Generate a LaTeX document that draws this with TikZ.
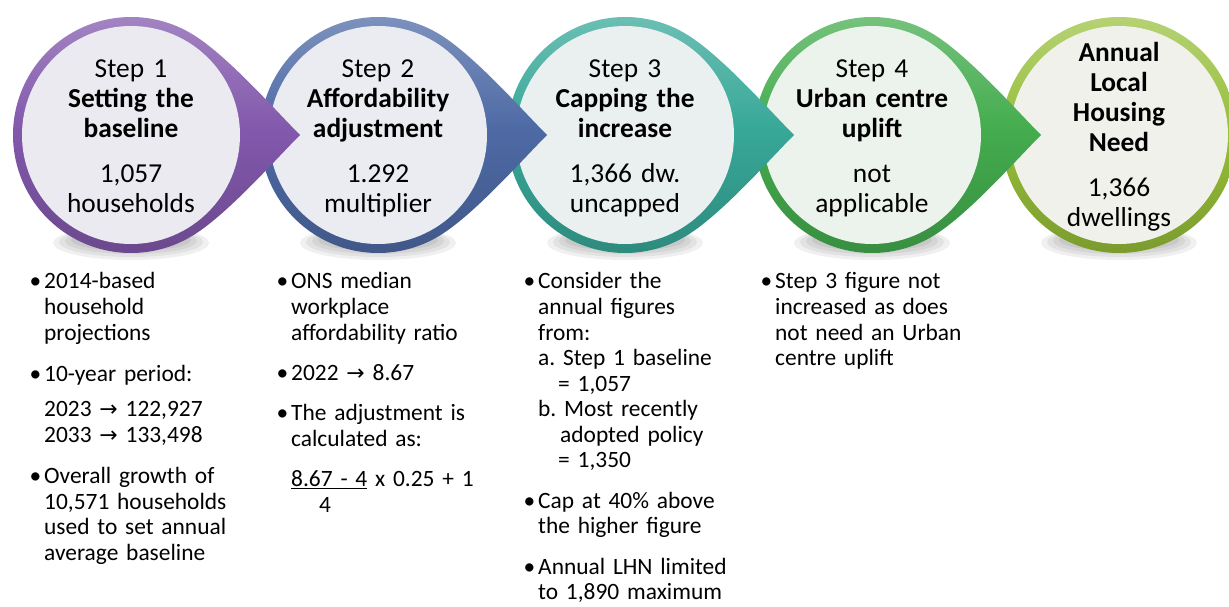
\documentclass[tikz,border=0pt]{standalone}
\usepackage{fontspec}
\setmainfont{Carlito}
\newfontfamily\arrowfont{DejaVu Sans}
\usetikzlibrary{calc}
\definecolor{ringPurple}{RGB}{130,88,172}
\definecolor{ringBlue}{RGB}{78,106,165}
\definecolor{ringTeal}{RGB}{55,168,152}
\definecolor{ringGreen}{RGB}{68,172,78}
\definecolor{ringOlive}{RGB}{150,190,56}
\definecolor{innerPurple}{RGB}{236,234,241}
\definecolor{innerBlue}{RGB}{234,236,242}
\definecolor{innerTeal}{RGB}{234,240,240}
\definecolor{innerGreen}{RGB}{236,242,236}
\definecolor{innerOlive}{RGB}{240,241,234}
\newcommand{\circfont}{\fontsize{27.5}{30}\selectfont}
\newcommand{\notefont}{\fontsize{23.5}{25.6}\selectfont}
\newcommand{\toarrow}{{\arrowfont\fontsize{22}{24}\selectfont →}}
\newcommand{\bul}{\leavevmode\llap{\textbullet\hspace{3bp}}}
% teardrop: #1 centre x, #2 ring colour, #3 inner colour
\newcommand{\stepdrop}[3]{%
  \shade[top color=#2!70!white, bottom color=#2!82!black, middle color=#2]
    ({#1+169},135) .. controls +(-25,-25) and +(35,20) .. ($(#1,135)+(-60:118)$)
    arc[start angle=-60, end angle=-300, radius=118]
    .. controls +(35,-20) and +(-25,25) .. ({#1+169},135) -- cycle;
  \fill[#3] (#1,135) circle[radius=109];
}

\begin{document}
\frenchspacing
\begin{tikzpicture}[x=1bp, y=-1bp,
    circtext/.style={text width=230bp, align=center, anchor=base, inner sep=0pt, font=\circfont},
    note/.style={text width=240bp, align=left, anchor=base west, inner sep=0pt, font=\notefont}
  ]
  \useasboundingbox (0,0) rectangle (1229,607);
  \clip (0,0) rectangle (1229,607);

  % soft shadows under the circles
  \foreach \cx in {131,378,625,872,1119}
    \foreach \k in {0,...,3}
      \fill[black, opacity=0.06] (\cx,{243-\k}) ellipse [x radius={78-6*\k}, y radius={17-2*\k}];

  % last circle first, so each pointer lies over the next circle
  \shade[top color=ringOlive!70!white, bottom color=ringOlive!82!black, middle color=ringOlive]
    (1119,135) circle[radius=118];
  \fill[innerOlive] (1119,135) circle[radius=109];
  \stepdrop{872}{ringGreen}{innerGreen}
  \stepdrop{625}{ringTeal}{innerTeal}
  \stepdrop{378}{ringBlue}{innerBlue}
  \stepdrop{131}{ringPurple}{innerPurple}

  \node[circtext] (s1) at (131,78) {Step 1\\ \textbf{Setting the}\\ \textbf{baseline}\\[15bp] 1,057\\ households};
  \node[circtext] (s2) at (378,78) {Step 2\\ \textbf{Affordability}\\ \textbf{adjustment}\\[15bp] 1.292\\ multiplier};
  \node[circtext] (s3) at (625,78) {Step 3\\ \textbf{Capping the}\\ \textbf{increase}\\[15bp] 1,366 dw.\\ uncapped};
  \node[circtext] (s4) at (872,78) {Step 4\\ \textbf{Urban centre}\\ \textbf{uplift}\\[15bp] not\\ applicable};
  \node[circtext] (s5) at (1119,62) {\textbf{Annual}\\ \textbf{Local}\\ \textbf{Housing}\\ \textbf{Need}\\[15bp] 1,366\\ dwellings};

  % notes under each step
  \node[note] (n1) at (44,289) {\bul 2014-based\\ household\\ projections\\[15.5bp]
    \bul 10-year period:\\[10bp]
    2023 \toarrow{} 122,927\\ 2033 \toarrow{} 133,498\\[16bp]
    \bul Overall growth of\\ 10,571 households\\ used to set annual\\ average baseline};
  \node[note] (n2) at (291,289) {\bul ONS median\\ workplace\\ affordability ratio\\[15bp]
    \bul 2022 \toarrow{} 8.67\\[14.5bp]
    \bul The adjustment is\\ calculated as:\\[15bp]
    \underline{8.67 - 4} x 0.25 + 1\\ \hspace*{28bp}4};
  \node[note] (n3) at (538,289) {\bul Consider the\\ annual figures\\ from:\\
    a. Step 1 baseline\\ \hspace*{20bp}= 1,057\\
    b. Most recently\\ \hspace*{22bp}adopted policy\\ \hspace*{20bp}= 1,350\\[15bp]
    \bul Cap at 40\% above\\ the higher figure\\[15bp]
    \bul Annual LHN limited\\ to 1,890 maximum};
  \node[note] (n4) at (775,289) {\bul Step 3 figure not\\ increased as does\\ not need an Urban\\ centre uplift};
\end{tikzpicture}
\end{document}
